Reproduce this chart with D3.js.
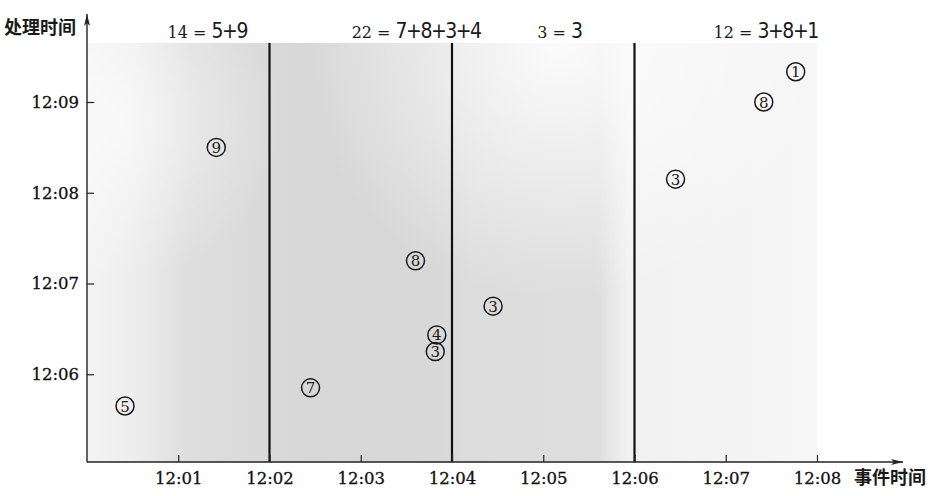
<!DOCTYPE html>
<html>
<head>
<meta charset="utf-8">
<script src="https://cdn.jsdelivr.net/npm/d3@7/dist/d3.min.js"></script>
<style>
  html, body { margin: 0; padding: 0; background: #fff; }
  svg { display: block; }
</style>
</head>
<body>
<svg id="chart" width="942" height="496"></svg>
<script>
// ---- data ----
const xTickLabels = ["12:01","12:02","12:03","12:04","12:05","12:06","12:07","12:08"];
const yTickLabels = ["12:06","12:07","12:08","12:09"];
const windowBounds = ["12:02","12:04","12:06"];
const eventTimes =      ["12:00:25","12:01:25","12:02:27","12:03:36","12:03:50","12:03:49","12:04:27","12:06:27","12:07:25","12:07:46"];
const processingTimes = ["12:05:39","12:08:30","12:05:51","12:07:15","12:06:26","12:06:15","12:06:45","12:08:09","12:09:00","12:09:20"];
const scores =          [5, 9, 7, 8, 4, 3, 3, 3, 8, 1];
const windowSums =   ["14", "22", "3", "12"];
const windowParts =  ["5+9", "7+8+3+4", "3", "3+8+1"];
const annotAnchors = ["12:00:53", "12:02:54", "12:04:56", "12:06:52"];
const xTitle = "事件时间";
const yTitle = "处理时间";

// ---- scales ----
const parseS = d3.timeParse("%H:%M:%S");
const parseM = d3.timeParse("%H:%M");
const fmt = d3.timeFormat("%H:%M");
const x = d3.scaleTime().domain([parseM("12:00"), parseM("12:08")]).range([87, 817]);
const y = d3.scaleTime().domain([parseM("12:05"), parseM("12:09")]).range([465, 102]);

const svg = d3.select("#chart");
const plotTop = 43, plotBottom = 462;
const serif = "'DejaVu Serif', serif";

// ---- background gradients ----
const defs = svg.append("defs");
const lg = defs.append("linearGradient").attr("id", "bg")
  .attr("gradientUnits", "userSpaceOnUse")
  .attr("x1", x.range()[0]).attr("x2", x.range()[1]).attr("y1", 0).attr("y2", 0);
[[0, "#f4f4f4"], [0.06, "#eeeeee"], [0.14, "#dedede"], [0.3, "#d7d7d7"], [0.48, "#d8d8d8"],
 [0.52, "#dcdcdc"], [0.7, "#dedede"], [0.74, "#f1f1f1"], [1, "#f6f6f6"]]
  .forEach(([o, c]) => lg.append("stop").attr("offset", o).attr("stop-color", c));

const rg = defs.append("radialGradient").attr("id", "hl")
  .attr("gradientUnits", "userSpaceOnUse")
  .attr("cx", 560).attr("cy", 40).attr("r", 260);
rg.append("stop").attr("offset", 0).attr("stop-color", "#fff").attr("stop-opacity", 0.9);
rg.append("stop").attr("offset", 0.5).attr("stop-color", "#fff").attr("stop-opacity", 0.45);
rg.append("stop").attr("offset", 1).attr("stop-color", "#fff").attr("stop-opacity", 0);

const rg2 = defs.append("radialGradient").attr("id", "hl2")
  .attr("gradientUnits", "userSpaceOnUse")
  .attr("cx", 120).attr("cy", 120).attr("r", 160);
rg2.append("stop").attr("offset", 0).attr("stop-color", "#fff").attr("stop-opacity", 0.6);
rg2.append("stop").attr("offset", 1).attr("stop-color", "#fff").attr("stop-opacity", 0);

const plotW = x.range()[1] - x.range()[0];
svg.append("rect").attr("x", x.range()[0]).attr("y", plotTop)
  .attr("width", plotW).attr("height", plotBottom - plotTop).attr("fill", "url(#bg)");
svg.append("rect").attr("x", x.range()[0]).attr("y", plotTop)
  .attr("width", plotW).attr("height", plotBottom - plotTop).attr("fill", "url(#hl)");
svg.append("rect").attr("x", x.range()[0]).attr("y", plotTop)
  .attr("width", plotW).attr("height", plotBottom - plotTop).attr("fill", "url(#hl2)");

// ---- window boundaries ----
svg.append("g").selectAll("line").data(windowBounds).join("line")
  .attr("x1", d => x(parseM(d))).attr("x2", d => x(parseM(d)))
  .attr("y1", plotTop).attr("y2", plotBottom)
  .attr("stroke", "#111").attr("stroke-width", 2.2);

// ---- axes ----
const xAxis = d3.axisBottom(x)
  .tickValues(xTickLabels.map(parseM)).tickFormat(fmt)
  .tickSizeInner(-7).tickSizeOuter(0).tickPadding(10);
const gx = svg.append("g").attr("transform", `translate(0,${plotBottom})`).call(xAxis);
gx.select(".domain").remove();
gx.selectAll("line").attr("stroke", "#222").attr("stroke-width", 1.2);
gx.selectAll("text").attr("font-family", serif).attr("font-size", 16.5)
  .attr("fill", "#111").attr("stroke", "#111").attr("stroke-width", 0.3);

const yAxis = d3.axisLeft(y)
  .tickValues(yTickLabels.map(parseM)).tickFormat(fmt)
  .tickSizeInner(-7).tickSizeOuter(0).tickPadding(8);
const gy = svg.append("g").attr("transform", `translate(${x.range()[0]},0)`).call(yAxis);
gy.select(".domain").remove();
gy.selectAll("line").attr("stroke", "#222").attr("stroke-width", 1.2);
gy.selectAll("text").attr("font-family", serif).attr("font-size", 16.5)
  .attr("fill", "#111").attr("stroke", "#111").attr("stroke-width", 0.3);

// axis lines with arrows
defs.append("marker").attr("id", "arrow").attr("viewBox", "0 0 12 8")
  .attr("refX", 12).attr("refY", 4).attr("markerWidth", 12).attr("markerHeight", 8)
  .attr("markerUnits", "userSpaceOnUse").attr("orient", "auto")
  .append("path").attr("d", "M0,1 L12,4 L0,7 L3,4 Z").attr("fill", "#222");
svg.append("line").attr("x1", x.range()[0]).attr("x2", 903)
  .attr("y1", plotBottom).attr("y2", plotBottom)
  .attr("stroke", "#222").attr("stroke-width", 1.4).attr("marker-end", "url(#arrow)");
svg.append("line").attr("x1", x.range()[0]).attr("x2", x.range()[0])
  .attr("y1", plotBottom).attr("y2", 14)
  .attr("stroke", "#222").attr("stroke-width", 1.4).attr("marker-end", "url(#arrow)");

// titles
svg.append("text").attr("x", 854).attr("y", 484).text(xTitle)
  .attr("font-family", "'Noto Sans CJK SC', sans-serif").attr("font-weight", "bold")
  .attr("font-size", 18).attr("fill", "#1a1a1a");
svg.append("text").attr("x", 4).attr("y", 34).text(yTitle)
  .attr("font-family", "'Noto Sans CJK SC', sans-serif").attr("font-weight", "bold")
  .attr("font-size", 18).attr("fill", "#1a1a1a");

// ---- window annotations ----
const ann = svg.append("g").selectAll("text").data(windowSums).join("text")
  .attr("x", (d, i) => x(parseS(annotAnchors[i]))).attr("y", 38)
  .attr("fill", "#1a1a1a");
ann.append("tspan").text(d => d + " = ")
  .attr("font-family", serif).attr("font-size", 16);
ann.append("tspan").text((d, i) => windowParts[i])
  .attr("font-family", "'DejaVu Sans Condensed', 'DejaVu Sans', sans-serif").attr("font-size", 21)
  .attr("letter-spacing", -1.5);

// ---- points ----
const pts = svg.append("g").selectAll("g").data(scores).join("g")
  .attr("transform", (d, i) => `translate(${x(parseS(eventTimes[i]))},${y(parseS(processingTimes[i]))})`);
pts.append("circle").attr("r", 9).attr("fill", "none")
  .attr("stroke", "#1a1a1a").attr("stroke-width", 1.5);
pts.append("text").text(d => d)
  .attr("text-anchor", "middle").attr("dy", "0.37em")
  .attr("font-family", serif).attr("font-size", 15).attr("fill", "#1a1a1a");
</script>
</body>
</html>
